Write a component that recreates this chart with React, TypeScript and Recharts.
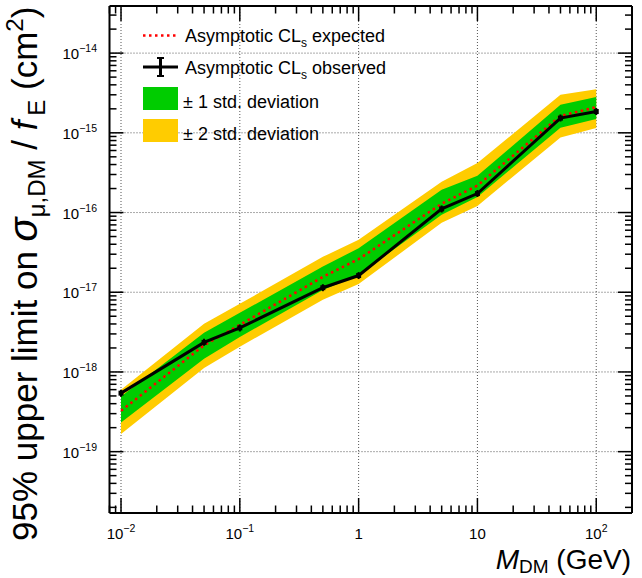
import { ComposedChart, Area, Line, XAxis, YAxis, CartesianGrid } from 'recharts';

// dark matter mass points (GeV)
const MASS = [0.01, 0.05, 0.1, 0.5, 1, 5, 10, 50, 100];
// 95% CL upper limits (cm^2)
const OBSERVED = [5.42e-19, 2.35e-18, 3.57e-18, 1.14e-17, 1.62e-17, 1.11e-16, 1.73e-16, 1.53e-15, 1.85e-15];
const EXPECTED = [3.25e-19, 2.16e-18, 3.9e-18, 1.56e-17, 2.6e-17, 1.29e-16, 2.18e-16, 1.63e-15, 2.1e-15];
const SIGMA1_UP = [4.91e-19, 3.1e-18, 5.52e-18, 2.1e-17, 3.57e-17, 1.93e-16, 2.89e-16, 2.25e-15, 2.81e-15];
const SIGMA1_DOWN = [2.32e-19, 1.46e-18, 2.75e-18, 1.07e-17, 1.65e-17, 9.36e-17, 1.57e-16, 1.16e-15, 1.49e-15];
const SIGMA2_UP = [5.96e-19, 4.02e-18, 7.15e-18, 2.78e-17, 4.54e-17, 2.43e-16, 4.17e-16, 3.0e-15, 3.52e-15];
const SIGMA2_DOWN = [1.67e-19, 1.12e-18, 2.07e-18, 8.03e-18, 1.27e-17, 7.43e-17, 1.21e-16, 8.73e-16, 1.15e-15];

const X_MAJOR = [0.01, 0.1, 1, 10, 100];
const X_LABELS: [string, string][] = [['10', '\u22122'], ['10', '\u22121'], ['1', ''], ['10', ''], ['10', '2']];
const Y_MAJOR = [1e-19, 1e-18, 1e-17, 1e-16, 1e-15, 1e-14];
const Y_LABELS = ['\u221219', '\u221218', '\u221217', '\u221216', '\u221215', '\u221214'];

const X_DOMAIN = [0.008, 200];
const Y_DOMAIN = [1.7e-20, 3.9e-14];

const W = 642;
const H = 578;
const MARGIN = { top: 2, right: 5, bottom: 25, left: 8 };
const Y_AXIS_W = 101.5;
const X_AXIS_H = 40;
const PLOT_LEFT = MARGIN.left + Y_AXIS_W;
const PLOT_RIGHT = W - MARGIN.right - 5;
const PLOT_TOP = MARGIN.top + 4;
const PLOT_BOTTOM = H - MARGIN.bottom - X_AXIS_H;

const FONT = '"Liberation Sans", Arial, Helvetica, sans-serif';

const data = MASS.map((m, i) => ({
  m,
  obs: OBSERVED[i],
  exp: EXPECTED[i],
  band1: [SIGMA1_DOWN[i], SIGMA1_UP[i]],
  band2: [SIGMA2_DOWN[i], SIGMA2_UP[i]],
}));

function allTicks(majors: number[], lo: number, hi: number) {
  const out: number[] = [];
  [majors[0] / 10, ...majors].forEach((d) => {
    for (let k = 1; k < 10; k++) {
      const v = d * k;
      if (v >= lo * 0.999999 && v <= hi * 1.000001) out.push(v);
    }
  });
  return out;
}

const X_TICKS = allTicks(X_MAJOR, X_DOMAIN[0], X_DOMAIN[1]);
const Y_TICKS = allTicks(Y_MAJOR, Y_DOMAIN[0], Y_DOMAIN[1]);

const majorIndex = (majors: number[], v: number) => majors.findIndex((m) => Math.abs(v / m - 1) < 1e-6);

const BottomTick = (props: any) => {
  const { x, payload } = props;
  const idx = majorIndex(X_MAJOR, payload.value);
  const len = idx >= 0 ? 15 : 7.5;
  return (
    <g>
      <line x1={x} x2={x} y1={PLOT_BOTTOM} y2={PLOT_BOTTOM - len} stroke="#000" strokeWidth={1.5} />
      {idx >= 0 && (
        <text x={x} y={539} textAnchor="middle" fontFamily={FONT} fontSize={15} fill="#000">
          {X_LABELS[idx][0]}
          {X_LABELS[idx][1] && (
            <tspan dy={-7} fontSize={10.5}>{X_LABELS[idx][1]}</tspan>
          )}
        </text>
      )}
    </g>
  );
};

const TopTick = (props: any) => {
  const { x, payload } = props;
  const len = majorIndex(X_MAJOR, payload.value) >= 0 ? 15 : 7.5;
  return <line x1={x} x2={x} y1={PLOT_TOP} y2={PLOT_TOP + len} stroke="#000" strokeWidth={1.5} />;
};

const LeftTick = (props: any) => {
  const { y, payload } = props;
  const idx = majorIndex(Y_MAJOR, payload.value);
  const len = idx >= 0 ? 14 : 7;
  return (
    <g>
      <line x1={PLOT_LEFT} x2={PLOT_LEFT + len} y1={y} y2={y} stroke="#000" strokeWidth={1.5} />
      {idx >= 0 && (
        <text x={97} y={y + 6} textAnchor="end" fontFamily={FONT} fontSize={15} fill="#000">
          10
          <tspan dy={-7} fontSize={10.5}>{Y_LABELS[idx]}</tspan>
        </text>
      )}
    </g>
  );
};

const RightTick = (props: any) => {
  const { y, payload } = props;
  const len = majorIndex(Y_MAJOR, payload.value) >= 0 ? 14 : 7;
  return <line x1={PLOT_RIGHT} x2={PLOT_RIGHT - len} y1={y} y2={y} stroke="#000" strokeWidth={1.5} />;
};

const ObsDot = (props: any) => {
  const { cx, cy, index } = props;
  return (
    <g key={'d' + index}>
      <line x1={cx} x2={cx} y1={cy - 3.5} y2={cy + 3.5} stroke="#000" strokeWidth={2} />
      <rect x={cx - 2.5} y={cy - 2.5} width={5} height={5} fill="#000" />
    </g>
  );
};

function Overlay() {
  return (
    <svg width={W} height={H} style={{ position: 'absolute', left: 0, top: 0, pointerEvents: 'none' }}>
      <g fontFamily={FONT} fill="#000">
        {/* legend */}
        <line x1={143} x2={176} y1={35.5} y2={35.5} stroke="#ff0000" strokeWidth={2.5} strokeDasharray="2.5 3.5" />
        <text x={185} y={42} fontSize={18}>
          Asymptotic CL<tspan dy={5} fontSize={12}>s</tspan>
          <tspan dy={-5}> expected</tspan>
        </text>
        <line x1={143} x2={178} y1={67} y2={67} stroke="#000" strokeWidth={3} />
        <line x1={160.5} x2={160.5} y1={57.5} y2={76.5} stroke="#000" strokeWidth={3} />
        <line x1={157} x2={164} y1={58} y2={58} stroke="#000" strokeWidth={2} />
        <line x1={157} x2={164} y1={76} y2={76} stroke="#000" strokeWidth={2} />
        <text x={185} y={74} fontSize={18}>
          Asymptotic CL<tspan dy={5} fontSize={12}>s</tspan>
          <tspan dy={-5}> observed</tspan>
        </text>
        <rect x={143} y={87} width={35} height={23} fill="#00cc00" />
        <text x={183} y={108} fontSize={18}>{'\u00b1 1 std. deviation'}</text>
        <rect x={143} y={119} width={35} height={23} fill="#ffcc00" />
        <text x={183} y={140} fontSize={18}>{'\u00b1 2 std. deviation'}</text>

        {/* x title */}
        <text x={631} y={569} textAnchor="end" fontSize={28}>
          <tspan fontStyle="italic">M</tspan>
          <tspan dy={4} fontSize={19}>DM</tspan>
          <tspan dy={-4}> (GeV)</tspan>
        </text>

        {/* y title, drawn upward from the bottom */}
        <text x={37} y={541} transform="rotate(-90 37 541)" fontSize={35}>
          95% upper limit on <tspan fontStyle="italic" fontSize={40}>{'\u03c3'}</tspan>
          <tspan dy={8} fontSize={24}>{'\u03bc,DM'}</tspan>
          <tspan dy={-8}>{' / '}</tspan>
          <tspan fontStyle="italic">f</tspan>
          <tspan dy={8} fontSize={24}>{'\u2009E'}</tspan>
          <tspan dy={-8}> (cm</tspan>
          <tspan dy={-14} fontSize={24}>2</tspan>
          <tspan dy={14}>)</tspan>
        </text>
      </g>
    </svg>
  );
}

export default function App() {
  return (
    <div style={{ position: 'absolute', left: 0, top: 0, width: W, height: H, background: '#fff' }}>
      <ComposedChart width={W} height={H} data={data} margin={MARGIN}>
        <CartesianGrid
          horizontal
          vertical
          horizontalValues={Y_MAJOR}
          verticalValues={X_MAJOR}
          stroke="#555"
          strokeDasharray="1 2"
        />
        <XAxis
          dataKey="m"
          type="number"
          scale="log"
          domain={X_DOMAIN}
          allowDataOverflow
          ticks={X_TICKS}
          interval={0}
          height={X_AXIS_H}
          tickLine={false}
          axisLine={{ stroke: '#000', strokeWidth: 2 }}
          tick={(p: any) => <BottomTick {...p} />}
        />
        <XAxis
          xAxisId="top"
          orientation="top"
          dataKey="m"
          type="number"
          scale="log"
          domain={X_DOMAIN}
          allowDataOverflow
          ticks={X_TICKS}
          interval={0}
          height={4}
          tickLine={false}
          axisLine={{ stroke: '#000', strokeWidth: 2 }}
          tick={(p: any) => <TopTick {...p} />}
        />
        <YAxis
          type="number"
          scale="log"
          domain={Y_DOMAIN}
          allowDataOverflow
          ticks={Y_TICKS}
          interval={0}
          width={Y_AXIS_W}
          tickLine={false}
          axisLine={{ stroke: '#000', strokeWidth: 2 }}
          tick={(p: any) => <LeftTick {...p} />}
        />
        <YAxis
          yAxisId="right"
          orientation="right"
          type="number"
          scale="log"
          domain={Y_DOMAIN}
          allowDataOverflow
          ticks={Y_TICKS}
          interval={0}
          width={5}
          tickLine={false}
          axisLine={{ stroke: '#000', strokeWidth: 2 }}
          tick={(p: any) => <RightTick {...p} />}
        />
        <Area dataKey="band2" type="linear" stroke="none" fill="#ffcc00" fillOpacity={1} isAnimationActive={false} />
        <Area dataKey="band1" type="linear" stroke="none" fill="#00cc00" fillOpacity={1} isAnimationActive={false} />
        <Line
          dataKey="exp"
          type="linear"
          stroke="#ff0000"
          strokeWidth={2.5}
          strokeDasharray="2.5 3.5"
          dot={false}
          isAnimationActive={false}
        />
        <Line
          dataKey="obs"
          type="linear"
          stroke="#000"
          strokeWidth={3}
          dot={(p: any) => <ObsDot key={'o' + p.index} {...p} />}
          isAnimationActive={false}
        />
      </ComposedChart>
      <Overlay />
    </div>
  );
}
